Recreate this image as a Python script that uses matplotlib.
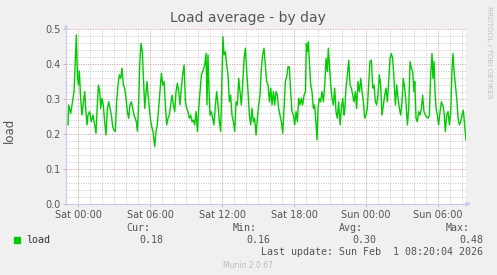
import matplotlib
matplotlib.use("Agg")
import matplotlib.pyplot as plt
import numpy as np

# ---- data (hours since Sat 00:00, load values) ----
hours = [
    -0.83, -0.78, -0.61, -0.50, -0.33, -0.14, -0.05, 0.03, 0.11, 0.22, 0.33, 0.47, 0.56, 0.64, 0.75, 0.83,
    0.97, 1.11, 1.25, 1.39, 1.50, 1.61, 1.70, 1.81, 1.89, 2.00, 2.11, 2.22, 2.33, 2.45, 2.56, 2.67,
    2.78, 2.89, 3.00, 3.11, 3.22, 3.33, 3.45, 3.56, 3.67, 3.78, 3.89, 4.00, 4.11, 4.22, 4.33, 4.45,
    4.56, 4.67,
    4.72, 4.86, 4.95, 5.06, 5.14, 5.25, 5.36, 5.45, 5.56, 5.67, 5.75, 5.84, 5.95, 6.03, 6.11, 6.25,
    6.39, 6.50, 6.61, 6.72, 6.83, 6.95, 7.06, 7.17, 7.28, 7.39, 7.50, 7.61, 7.72, 7.84, 7.95, 8.06,
    8.17, 8.28, 8.39, 8.50, 8.61, 8.72, 8.84, 8.95, 9.06, 9.17, 9.28, 9.39, 9.50, 9.61, 9.72, 9.84,
    9.95, 10.06, 10.17, 10.28, 10.39,
    10.56, 10.67, 10.75, 10.83, 10.92, 11.00, 11.11, 11.22, 11.33, 11.45, 11.56, 11.67, 11.78, 11.89,
    12.00, 12.08, 12.17, 12.28, 12.39, 12.50, 12.61, 12.72, 12.83, 12.95, 13.06, 13.17, 13.28, 13.39,
    13.50, 13.61, 13.72, 13.84, 13.95, 14.06, 14.17, 14.28, 14.39, 14.50, 14.61, 14.72, 14.84, 14.95,
    15.06, 15.17, 15.28, 15.39, 15.50, 15.61, 15.72, 15.84, 15.95, 16.06, 16.17, 16.28,
    16.39, 16.50, 16.61, 16.72, 16.83, 16.95, 17.06, 17.17, 17.28, 17.39, 17.50, 17.61, 17.72, 17.83,
    17.95, 18.06, 18.17, 18.28, 18.39, 18.50, 18.61, 18.72, 18.84, 18.95, 19.03, 19.11, 19.20, 19.28,
    19.39, 19.50, 19.61, 19.72, 19.84, 19.92, 20.00, 20.11, 20.22, 20.33, 20.45, 20.56, 20.67, 20.78,
    20.86, 20.95, 21.06, 21.17, 21.28, 21.39, 21.50, 21.61, 21.72, 21.84, 21.95, 22.06, 22.17,
    22.22, 22.33, 22.45, 22.56, 22.67, 22.78, 22.89, 23.00, 23.11, 23.22, 23.33, 23.45, 23.56, 23.67,
    23.78, 23.89, 24.00, 24.11, 24.22, 24.33, 24.45, 24.56, 24.67, 24.78, 24.89, 25.00, 25.11, 25.22,
    25.33, 25.45, 25.56, 25.67, 25.78, 25.89, 26.00, 26.11, 26.22, 26.33, 26.45, 26.56, 26.67, 26.78,
    26.89, 27.00, 27.11, 27.22, 27.33, 27.45, 27.56, 27.67, 27.78, 27.89, 28.00,
    28.06, 28.17, 28.28, 28.39, 28.50, 28.61, 28.72, 28.83, 28.95, 29.05, 29.17, 29.28, 29.39, 29.50,
    29.58, 29.67, 29.75, 29.84, 29.95, 30.05, 30.17, 30.28, 30.39, 30.50, 30.61, 30.72, 30.84, 30.95,
    31.06, 31.17, 31.25, 31.34, 31.45, 31.56, 31.67, 31.78, 31.89, 32.00, 32.11, 32.22, 32.33,
]
load = [
    0.226, 0.283, 0.259, 0.283, 0.321, 0.483, 0.369, 0.340, 0.380, 0.302, 0.254, 0.297, 0.321, 0.273, 0.226, 0.254,
    0.264, 0.235, 0.254, 0.226, 0.202, 0.283, 0.340, 0.321, 0.273, 0.302, 0.283, 0.235, 0.197, 0.273, 0.292, 0.273,
    0.254, 0.221, 0.211, 0.207, 0.292, 0.340, 0.369, 0.359, 0.388, 0.340, 0.331, 0.302, 0.264, 0.245, 0.283, 0.292,
    0.273, 0.254,
    0.249, 0.235, 0.208, 0.292, 0.397, 0.459, 0.435, 0.359, 0.273, 0.321, 0.350, 0.311, 0.273, 0.245, 0.226, 0.207,
    0.164, 0.207, 0.226, 0.273, 0.321, 0.373, 0.340, 0.350, 0.283, 0.226, 0.245, 0.254, 0.283, 0.311, 0.283, 0.264,
    0.321, 0.345, 0.321, 0.283, 0.331, 0.369, 0.397, 0.292, 0.273, 0.264, 0.245, 0.254, 0.235, 0.240, 0.226, 0.264,
    0.207, 0.273, 0.321, 0.369, 0.378,
    0.397, 0.430, 0.283, 0.426, 0.321, 0.254, 0.264, 0.245, 0.226, 0.283, 0.321, 0.283, 0.235, 0.207,
    0.369, 0.478, 0.426, 0.435, 0.397, 0.369, 0.292, 0.311, 0.254, 0.235, 0.207, 0.292, 0.283, 0.359,
    0.321, 0.283, 0.340, 0.416, 0.445, 0.378, 0.321, 0.254, 0.226, 0.273, 0.235, 0.245, 0.197, 0.245,
    0.283, 0.311, 0.388, 0.426, 0.445, 0.397, 0.350, 0.340, 0.292, 0.331, 0.283, 0.321,
    0.283, 0.321, 0.311, 0.273, 0.254, 0.235, 0.202, 0.273, 0.350, 0.364, 0.392, 0.392, 0.321, 0.264,
    0.254, 0.226, 0.264, 0.235, 0.302, 0.283, 0.302, 0.283, 0.311, 0.321, 0.459, 0.435, 0.464, 0.407,
    0.340, 0.321, 0.273, 0.283, 0.226, 0.183, 0.273, 0.302, 0.292, 0.321, 0.292, 0.340, 0.416, 0.378,
    0.445, 0.397, 0.340, 0.302, 0.283, 0.331, 0.264, 0.245, 0.292, 0.226, 0.273, 0.302, 0.254,
    0.264, 0.331, 0.369, 0.411, 0.340, 0.331, 0.311, 0.292, 0.321, 0.273, 0.350, 0.321, 0.359, 0.321,
    0.292, 0.245, 0.254, 0.273, 0.340, 0.407, 0.411, 0.331, 0.340, 0.292, 0.283, 0.311, 0.369, 0.340,
    0.254, 0.283, 0.311, 0.331, 0.292, 0.350, 0.416, 0.430, 0.416, 0.359, 0.283, 0.340, 0.302, 0.273,
    0.254, 0.292, 0.359, 0.331, 0.292, 0.226, 0.273, 0.407, 0.388, 0.378, 0.321,
    0.350, 0.245, 0.235, 0.264, 0.254, 0.273, 0.311, 0.264, 0.254, 0.249, 0.245, 0.254, 0.369, 0.430,
    0.359, 0.407, 0.321, 0.273, 0.254, 0.226, 0.264, 0.292, 0.283, 0.264, 0.207, 0.254, 0.264, 0.226,
    0.264, 0.388, 0.430, 0.378, 0.340, 0.302, 0.245, 0.226, 0.235, 0.254, 0.268, 0.226, 0.183,
]
tick_hours = [0, 6, 12, 18, 24, 30]
tick_labels = ["Sat 00:00", "Sat 06:00", "Sat 12:00", "Sat 18:00", "Sun 00:00", "Sun 06:00"]
y_ticks = [0.0, 0.1, 0.2, 0.3, 0.4, 0.5]
stat_names = ["Cur:", "Min:", "Avg:", "Max:"]
stat_values = ["0.18", "0.16", "0.30", "0.48"]
series_name = "load"
last_update = "Last update: Sun Feb  1 08:20:04 2026"

W, H = 497, 275
fig = plt.figure(figsize=(W / 100, H / 100), dpi=100, facecolor="#F0F0F0")
ax = fig.add_axes([66 / W, (H - 204) / H, 400 / W, 175 / H], facecolor="white")

ax.set_xlim(-1.0, 32.333)
ax.set_ylim(0, 0.5)

GRID = "#C8C8C8"
MAJ = "#E09A9A"
# grid
for h in np.arange(0.0, 33, 1.0):
    if h % 6 != 0:
        ax.axvline(h, color=GRID, lw=0.72, ls=(0, (1, 1.4)), zorder=1)
for yv in np.arange(0, 0.5001, 0.02):
    if abs(round(yv * 10) - yv * 10) > 1e-6:
        ax.axhline(yv, color=GRID, lw=0.72, ls=(0, (1, 1.4)), zorder=1)
for h in tick_hours:
    ax.axvline(h, color=MAJ, lw=0.72, ls=(0, (1, 1.4)), zorder=1.5)
for yv in y_ticks:
    ax.axhline(yv, color=MAJ, lw=0.72, ls=(0, (1, 1.4)), zorder=1.5)

ax.plot(hours, load, color="#00CC00", lw=1.0, zorder=3)

ax.set_xticks(tick_hours)
ax.set_xticklabels(tick_labels)
ax.set_yticks(y_ticks)
ax.set_yticklabels([f"{v:.1f}" for v in y_ticks])
ax.tick_params(axis="both", colors="#555555", labelsize=7, length=2, width=0.6, pad=2)
ax.tick_params(axis="x", color=MAJ)
ax.tick_params(axis="y", color=MAJ)
for lab in ax.get_xticklabels() + ax.get_yticklabels():
    lab.set_color("#555555")

for s in ["top", "right"]:
    ax.spines[s].set_visible(False)
for s in ["left", "bottom"]:
    ax.spines[s].set_color("#C8C8F0")
    ax.spines[s].set_linewidth(0.8)

# arrows
ax.annotate("", xy=(1.018, 0), xycoords="axes fraction", xytext=(1.0, 0),
            arrowprops=dict(arrowstyle="-|>", color="#C8C8F0", lw=0.8, mutation_scale=6))
ax.annotate("", xy=(0, 1.04), xycoords="axes fraction", xytext=(0, 1.0),
            arrowprops=dict(arrowstyle="-|>", color="#C8C8F0", lw=0.8, mutation_scale=6))

ax.set_ylabel("load", color="#555555", fontsize=8.5)
ax.yaxis.set_label_coords((16 - 66) / 400, (204 - 130) / 175)

fig.text(248 / W, 1 - 18 / H, "Load average - by day", ha="center", va="center",
         fontsize=10, color="#555555")
fig.text(489 / W, 1 - 52 / H, "RRDTOOL / TOBI OETIKER", ha="center", va="center",
         rotation=270, fontsize=5.2, color="#C0C0C0")

mono = "DejaVu Sans Mono"
fs = 7.2
fig.patches.append(plt.Rectangle((14 / W, 1 - 243 / H), 6 / W, 6 / H,
                                 transform=fig.transFigure, color="#00CC00"))
fig.text(26 / W, 1 - 240 / H, series_name, family=mono, fontsize=fs, color="#333333", va="center")
name_right = [150, 257, 363, 470]
val_right = [163, 270, 376, 483]
for nm, vv, xr1, xr2 in zip(stat_names, stat_values, name_right, val_right):
    fig.text(xr1 / W, 1 - 228 / H, nm, family=mono, fontsize=fs, color="#555555", ha="right", va="center")
    fig.text(xr2 / W, 1 - 240 / H, vv, family=mono, fontsize=fs, color="#555555", ha="right", va="center")
fig.text(483 / W, 1 - 252 / H, last_update, family=mono, fontsize=fs, color="#555555", ha="right", va="center")
fig.text(248 / W, 1 - 265 / H, "Munin 2.0.67", fontsize=5.5, color="#BBBBBB", ha="center", va="center")

fig.savefig("out.png", dpi=100, facecolor=fig.get_facecolor())
